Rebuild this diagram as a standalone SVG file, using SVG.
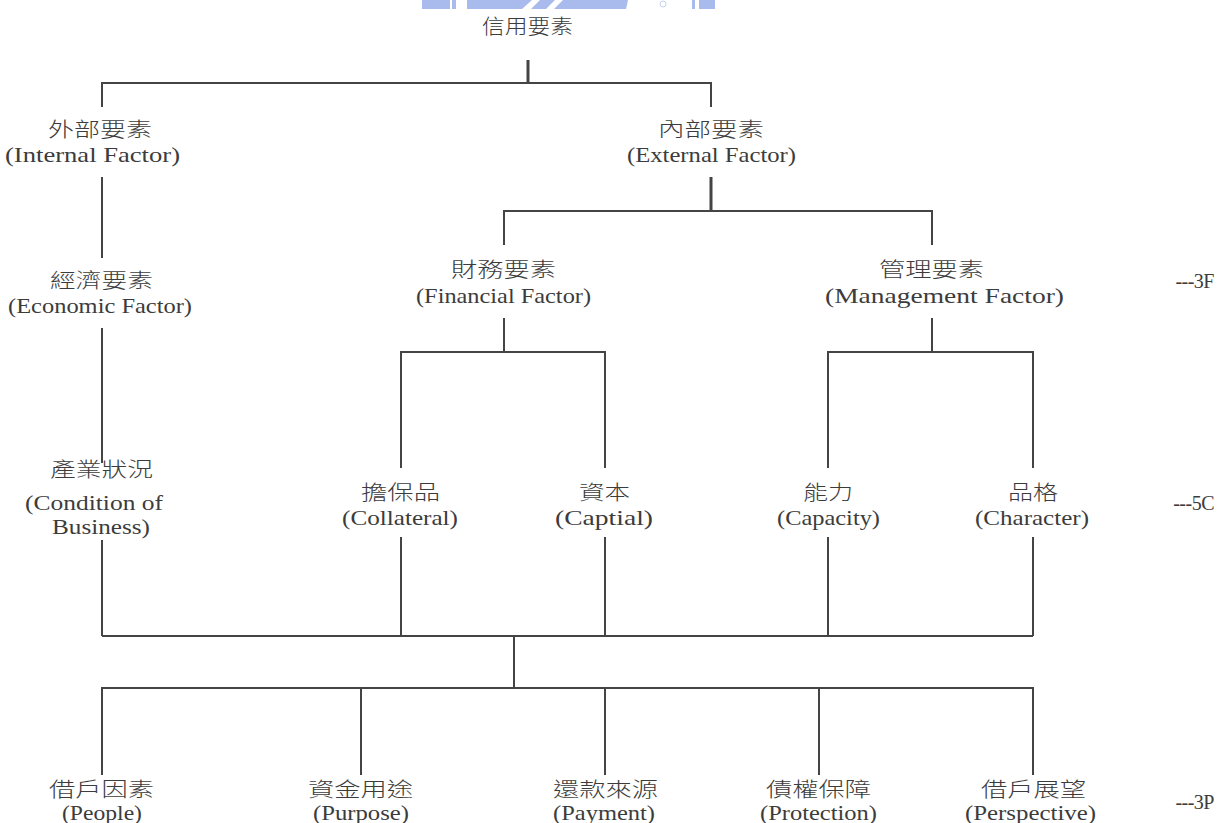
<svg xmlns="http://www.w3.org/2000/svg" width="1220" height="823" viewBox="0 0 1220 823">
  <style>
    .zh { font-family: "Noto Sans CJK TC", "Noto Sans CJK SC", sans-serif; font-size: 20px; font-weight: 300; fill: #3c3c3c; }
    .en { font-family: "Liberation Serif", "Times New Roman", serif; font-size: 21px; fill: #3c3c3c; }
    .tag { font-family: "Liberation Serif", "Times New Roman", serif; font-size: 20px; fill: #3c3c3c; text-anchor: end; letter-spacing: -0.5px; }
    .wire { fill: none; stroke: #444; stroke-width: 2; }
    .wire.heavy { stroke-width: 3; }
    .mark { fill: #a9bbec; }
  </style>
  <rect width="1220" height="823" fill="#ffffff"/>

  <!-- faint emblem along the top edge -->
  <g id="emblem">
    <rect class="mark" x="422" y="0" width="28" height="9"/>
    <rect class="mark" x="452" y="0" width="4" height="9"/>
    <polygon class="mark" points="467,0 532,0 522,9 467,9"/>
    <polygon class="mark" points="540,0 555,0 546,9 531,9"/>
    <polygon class="mark" points="563,0 628,0 626,9 554,9"/>
    <circle cx="663" cy="4" r="3" fill="none" stroke="#c8d3f2" stroke-width="1"/>
    <rect class="mark" x="692" y="0" width="3" height="9"/>
    <rect class="mark" x="699" y="0" width="16" height="9"/>
  </g>

  <!-- connectors -->
  <g id="connectors">
    <path class="wire heavy" d="M528 60 V83"/>
    <path class="wire" d="M102 107 V83 H711 V107"/>
    <path class="wire" d="M102 177 V258"/>
    <path class="wire" d="M102 328 V463"/>
    <path class="wire" d="M102 540 V636"/>
    <path class="wire heavy" d="M711 177 V211"/>
    <path class="wire" d="M504 245 V211 H932 V245"/>
    <path class="wire" d="M504 318 V352"/>
    <path class="wire" d="M932 318 V352"/>
    <path class="wire" d="M401 468 V352 H605 V468"/>
    <path class="wire" d="M828 468 V352 H1033 V468"/>
    <path class="wire" d="M401 537 V636"/>
    <path class="wire" d="M605 537 V636"/>
    <path class="wire" d="M828 537 V636"/>
    <path class="wire" d="M1033 537 V636"/>
    <path class="wire" d="M102 636 H1033"/>
    <path class="wire" d="M514 636 V688"/>
    <path class="wire" d="M102 775 V688 H1033 V775"/>
    <path class="wire" d="M361 688 V775"/>
    <path class="wire" d="M605 688 V775"/>
    <path class="wire" d="M819 688 V775"/>
  </g>

  <g id="credit-factors">
    <text class="zh" x="482" y="34" textLength="91" lengthAdjust="spacingAndGlyphs">信用要素</text>
  </g>

  <g id="outer-factor">
    <text class="zh" x="48" y="137" textLength="104" lengthAdjust="spacingAndGlyphs">外部要素</text>
    <text class="en" x="5" y="162" textLength="175" lengthAdjust="spacingAndGlyphs">(Internal Factor)</text>
  </g>
  <g id="inner-factor">
    <text class="zh" x="658" y="137" textLength="106" lengthAdjust="spacingAndGlyphs">內部要素</text>
    <text class="en" x="627" y="162" textLength="169" lengthAdjust="spacingAndGlyphs">(External Factor)</text>
  </g>

  <g id="economic-factor">
    <text class="zh" x="50" y="288" textLength="103" lengthAdjust="spacingAndGlyphs">經濟要素</text>
    <text class="en" x="8" y="313" textLength="184" lengthAdjust="spacingAndGlyphs">(Economic Factor)</text>
  </g>
  <g id="financial-factor">
    <text class="zh" x="451" y="277" textLength="105" lengthAdjust="spacingAndGlyphs">財務要素</text>
    <text class="en" x="416" y="303" textLength="175" lengthAdjust="spacingAndGlyphs">(Financial Factor)</text>
  </g>
  <g id="management-factor">
    <text class="zh" x="879" y="277" textLength="105" lengthAdjust="spacingAndGlyphs">管理要素</text>
    <text class="en" x="825" y="303" textLength="239" lengthAdjust="spacingAndGlyphs">(Management Factor)</text>
  </g>
  <g id="tag-3f">
    <text class="tag" x="1214" y="288">---3F</text>
  </g>

  <g id="business-condition">
    <text class="zh" x="50" y="477" textLength="103" lengthAdjust="spacingAndGlyphs">產業狀況</text>
    <text class="en" x="25" y="510" textLength="138" lengthAdjust="spacingAndGlyphs">(Condition of</text>
    <text class="en" x="52" y="534" textLength="98" lengthAdjust="spacingAndGlyphs">Business)</text>
  </g>
  <g id="collateral">
    <text class="zh" x="361" y="500" textLength="79" lengthAdjust="spacingAndGlyphs">擔保品</text>
    <text class="en" x="342" y="525" textLength="116" lengthAdjust="spacingAndGlyphs">(Collateral)</text>
  </g>
  <g id="capital">
    <text class="zh" x="579" y="500" textLength="51" lengthAdjust="spacingAndGlyphs">資本</text>
    <text class="en" x="555" y="525" textLength="98" lengthAdjust="spacingAndGlyphs">(Captial)</text>
  </g>
  <g id="capacity">
    <text class="zh" x="803" y="500" textLength="50" lengthAdjust="spacingAndGlyphs">能力</text>
    <text class="en" x="777" y="525" textLength="103" lengthAdjust="spacingAndGlyphs">(Capacity)</text>
  </g>
  <g id="character">
    <text class="zh" x="1008" y="500" textLength="50" lengthAdjust="spacingAndGlyphs">品格</text>
    <text class="en" x="975" y="525" textLength="114" lengthAdjust="spacingAndGlyphs">(Character)</text>
  </g>
  <g id="tag-5c">
    <text class="tag" x="1214" y="510">---5C</text>
  </g>

  <g id="people">
    <text class="zh" x="49" y="797" textLength="105" lengthAdjust="spacingAndGlyphs">借戶因素</text>
    <text class="en" x="62" y="820" textLength="80" lengthAdjust="spacingAndGlyphs">(People)</text>
  </g>
  <g id="purpose">
    <text class="zh" x="308" y="797" textLength="105" lengthAdjust="spacingAndGlyphs">資金用途</text>
    <text class="en" x="313" y="820" textLength="96" lengthAdjust="spacingAndGlyphs">(Purpose)</text>
  </g>
  <g id="payment">
    <text class="zh" x="553" y="797" textLength="105" lengthAdjust="spacingAndGlyphs">還款來源</text>
    <text class="en" x="553" y="820" textLength="102" lengthAdjust="spacingAndGlyphs">(Payment)</text>
  </g>
  <g id="protection">
    <text class="zh" x="766" y="797" textLength="105" lengthAdjust="spacingAndGlyphs">債權保障</text>
    <text class="en" x="760" y="820" textLength="117" lengthAdjust="spacingAndGlyphs">(Protection)</text>
  </g>
  <g id="perspective">
    <text class="zh" x="981" y="797" textLength="105" lengthAdjust="spacingAndGlyphs">借戶展望</text>
    <text class="en" x="965" y="820" textLength="131" lengthAdjust="spacingAndGlyphs">(Perspective)</text>
  </g>
  <g id="tag-3p">
    <text class="tag" x="1214" y="809">---3P</text>
  </g>
</svg>
